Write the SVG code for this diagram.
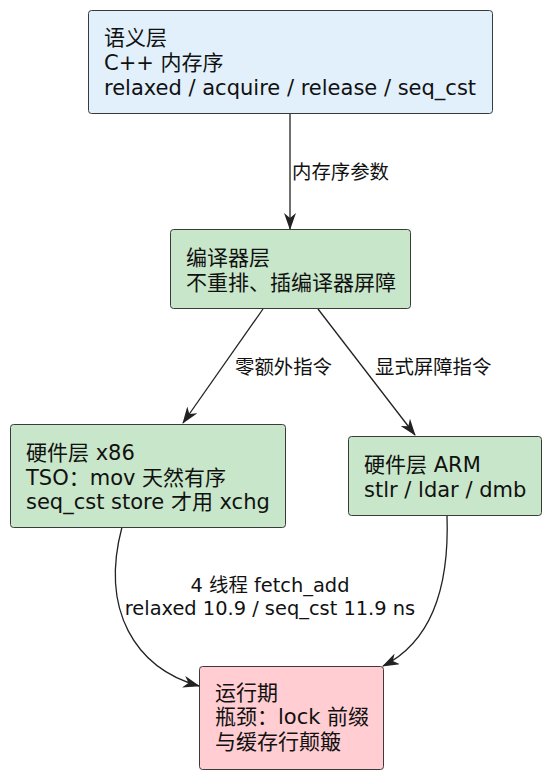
<svg xmlns="http://www.w3.org/2000/svg" width="548" height="776" viewBox="0 0 548 776">
<style>
.n{stroke:#3a3a3a;stroke-width:1;}
.t{font-family:"DejaVu Sans","Noto Sans CJK SC",sans-serif;font-size:21px;fill:#111;}
.l{font-family:"DejaVu Sans","Noto Sans CJK SC",sans-serif;font-size:19.4px;fill:#111;}
.e{fill:none;stroke:#222;stroke-width:1.3;}
</style>
<defs>
<marker id="ah" viewBox="0 0 17 12" refX="16" refY="6" markerWidth="17" markerHeight="12" markerUnits="userSpaceOnUse" orient="auto">
<path d="M0,0 L17,6 L0,12 L5,6 Z" fill="#222"/>
</marker>
</defs>
<rect width="548" height="776" fill="#fff"/>
<g id="connectors">
<path class="e" d="M290,113 L290,229" marker-end="url(#ah)"/>
<path class="e" d="M263,309 L183,423" marker-end="url(#ah)"/>
<path class="e" d="M318,309 L415,435" marker-end="url(#ah)"/>
<path class="e" d="M122,527 C100,610 135,668 199,686" marker-end="url(#ah)"/>
<path class="e" d="M447,515 C450,600 425,645 383,666" marker-end="url(#ah)"/>
<text class="l" x="292" y="179">内存序参数</text>
<text class="l" x="235" y="374">零额外指令</text>
<text class="l" x="375" y="374">显式屏障指令</text>
<text class="l" x="270" y="592" text-anchor="middle">4 线程 fetch_add</text>
<text class="l" x="270" y="615" text-anchor="middle">relaxed 10.9 / seq_cst 11.9 ns</text>
</g>
<g id="semantic">
<rect class="n" x="88.5" y="10.5" width="404" height="103" rx="3" fill="#E2F0FB"/>
<text class="t" x="104" y="45">语义层</text>
<text class="t" x="104" y="70">C++ 内存序</text>
<text class="t" x="104" y="94.5">relaxed / acquire / release / seq_cst</text>
</g>
<g id="compiler">
<rect class="n" x="170.5" y="229.5" width="240" height="79" rx="3" fill="#C8E6C9"/>
<text class="t" x="186" y="265">编译器层</text>
<text class="t" x="186" y="290">不重排、插编译器屏障</text>
</g>
<g id="x86">
<rect class="n" x="10.5" y="424.5" width="275" height="103" rx="3" fill="#C8E6C9"/>
<text class="t" x="26" y="460">硬件层 x86</text>
<text class="t" x="26" y="485">TSO：mov 天然有序</text>
<text class="t" x="26" y="509">seq_cst store 才用 xchg</text>
</g>
<g id="arm">
<rect class="n" x="348.5" y="436.5" width="193" height="79" rx="3" fill="#C8E6C9"/>
<text class="t" x="364" y="472">硬件层 ARM</text>
<text class="t" x="364" y="497">stlr / ldar / dmb</text>
</g>
<g id="runtime">
<rect class="n" x="199.5" y="666.5" width="184" height="103" rx="3" fill="#FFCDD2"/>
<text class="t" x="215" y="700">运行期</text>
<text class="t" x="215" y="724">瓶颈：lock 前缀</text>
<text class="t" x="215" y="749">与缓存行颠簸</text>
</g>
</svg>
